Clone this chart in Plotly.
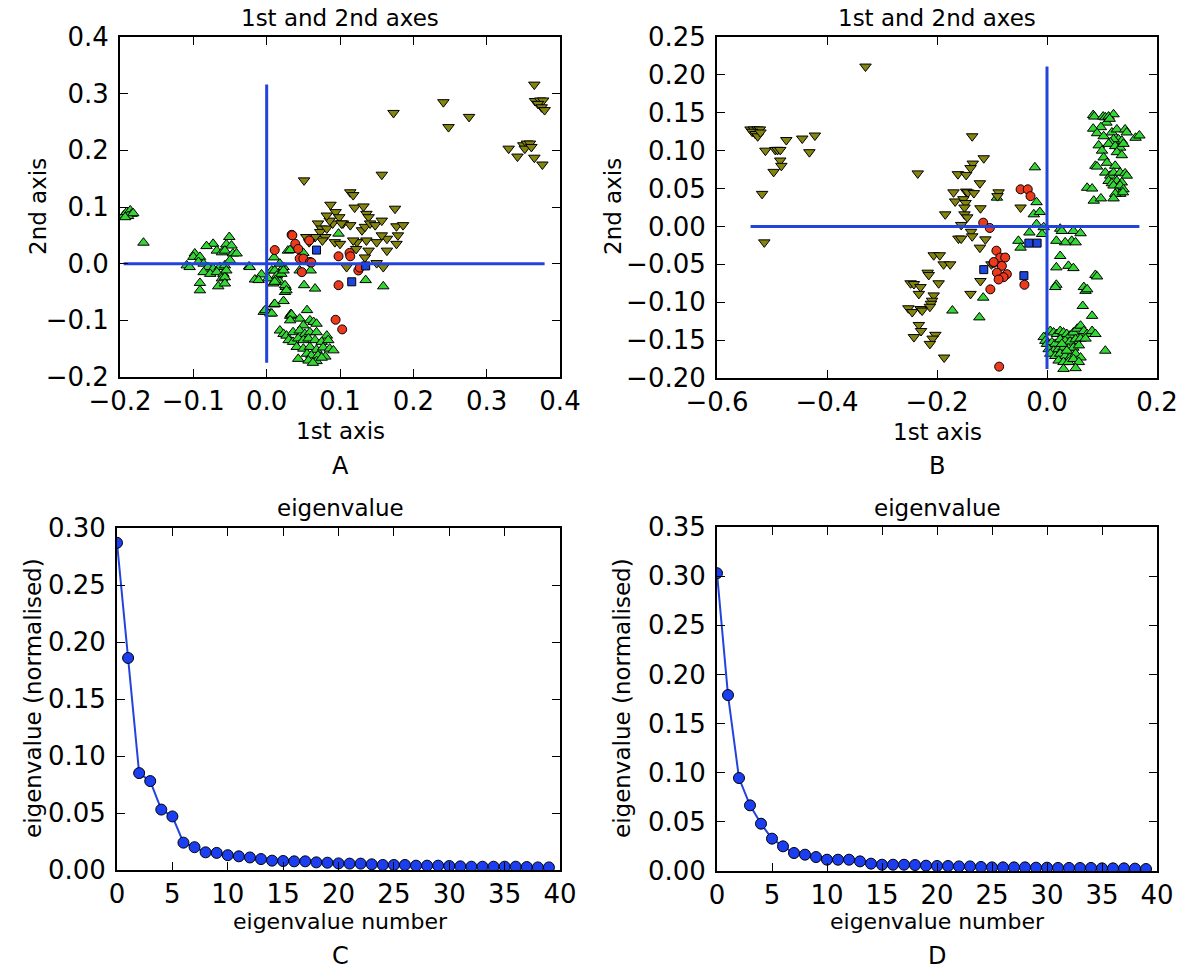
import plotly.graph_objects as go

# ---------------- Panel A data ----------------
a_olive_x = [0.365, 0.241, 0.248, 0.276, 0.173, 0.366, 0.373, 0.377, 0.370, 0.375, 0.379, 0.330, 0.342, 0.350, 0.355, 0.359,
             0.352, 0.361, 0.365, 0.376, 0.157, 0.051, 0.114, 0.118, 0.087, 0.094, 0.099, 0.120, 0.132, 0.136, 0.139, 0.175,
             0.070, 0.075, 0.073, 0.082, 0.090, 0.104, 0.114, 0.130, 0.134, 0.141, 0.148, 0.157, 0.177, 0.186, 0.179, 0.177,
             0.164, 0.164, 0.157, 0.150, 0.139, 0.136, 0.123, 0.118, 0.122, 0.093, 0.100, 0.080, 0.076, 0.066, 0.054, 0.058,
             0.134, 0.150, 0.159, 0.109, 0.086, 0.082, 0.102]
a_olive_y = [0.316, 0.285, 0.241, 0.259, 0.266, 0.287, 0.288, 0.288, 0.282, 0.276, 0.271, 0.203, 0.189, 0.209, 0.212, 0.212,
             0.203, 0.206, 0.187, 0.175, 0.157, 0.147, 0.126, 0.121, 0.104, 0.091, 0.082, 0.099, 0.101, 0.088, 0.082, 0.097,
             0.071, 0.062, 0.056, 0.062, 0.071, 0.071, 0.068, 0.059, 0.065, 0.071, 0.068, 0.076, 0.066, 0.068, 0.050, 0.035,
             0.023, 0.044, 0.050, 0.038, 0.023, 0.041, 0.038, 0.041, 0.026, 0.038, 0.035, 0.047, 0.041, 0.047, 0.047, 0.038,
             0.011, 0.001, -0.006, -0.006, 0.076, 0.085, 0.071]

a_green_x = [-0.195, -0.191, -0.186, -0.184, -0.189, -0.193, -0.182, -0.168,
             -0.051, -0.073, -0.082, -0.055, -0.048, -0.068, -0.061, -0.057, -0.046, -0.041, -0.098, -0.100, -0.091,
             -0.109, -0.105, -0.093, -0.086, -0.080, -0.073, -0.064, -0.057, -0.050, -0.086, -0.077, -0.068, -0.059,
             -0.055, -0.061, -0.057, -0.091, -0.066, -0.024, -0.016, -0.007, -0.011, 0.002, 0.007, 0.011, 0.014, 0.020,
             0.023, 0.010, 0.029, 0.009, 0.018, -0.091, -0.057, -0.023,
             0.032, 0.050, 0.098, 0.018, 0.023, 0.012, 0.026, 0.025, 0.051, 0.060, 0.066, 0.045, 0.135, 0.159, 0.023,
             0.010, 0.000, 0.005, -0.004, 0.033, 0.032, 0.011, 0.025, 0.027,
             0.011, -0.002, 0.007, 0.034, 0.055, 0.045, 0.059, 0.064, 0.068, 0.050, 0.018, 0.023, 0.027, 0.036, 0.045,
             0.052, 0.059, 0.068, 0.082, 0.030, 0.036, 0.043, 0.050, 0.057, 0.066, 0.075, 0.084, 0.041, 0.050, 0.059,
             0.068, 0.077, 0.086, 0.091, 0.055, 0.061, 0.070, 0.080, 0.043, 0.057, 0.068, 0.075, 0.032, 0.063]
a_green_y = [0.085, 0.091, 0.094, 0.088, 0.084, 0.082, 0.089, 0.037,
             0.047, 0.035, 0.031, 0.034, 0.032, 0.023, 0.020, 0.023, 0.018, 0.018, 0.018, 0.012, 0.012,
             -0.003, -0.006, 0.003, 0.000, -0.006, -0.009, -0.006, -0.003, 0.006, -0.015, -0.018, -0.015, -0.018,
             -0.012, -0.026, -0.024, -0.034, -0.040, -0.005, -0.028, -0.019, -0.029, -0.026, -0.012, -0.012, -0.021, -0.018,
             -0.006, 0.011, 0.023, -0.035, -0.032, -0.047, -0.035, -0.006,
             0.024, 0.019, 0.053, 0.000, -0.012, -0.029, -0.041, -0.050, -0.038, -0.012, -0.044, -0.012, -0.029, -0.040, -0.066,
             -0.072, -0.085, -0.088, -0.085, -0.089, -0.092, -0.032, -0.038, -0.047,
             -0.071, -0.082, -0.088, -0.090, -0.082, -0.097, -0.100, -0.103, -0.106, -0.109, -0.118, -0.124, -0.127, -0.121, -0.118,
             -0.124, -0.121, -0.121, -0.127, -0.135, -0.138, -0.132, -0.135, -0.132, -0.135, -0.138, -0.135, -0.147, -0.150, -0.147,
             -0.152, -0.148, -0.150, -0.153, -0.159, -0.162, -0.162, -0.164, -0.168, -0.171, -0.172, -0.166, -0.100, -0.175]

a_red_x = [0.034, 0.035, 0.058, 0.039, 0.043, 0.011, 0.045, 0.050, 0.059, 0.061, 0.048, 0.098, 0.113, 0.114, 0.125, 0.127,
           0.098, 0.094, 0.103]
a_red_y = [0.051, 0.050, 0.041, 0.035, 0.026, 0.024, 0.009, 0.009, 0.003, 0.002, -0.015, 0.013, 0.019, 0.013, -0.012, -0.007,
           -0.038, -0.099, -0.116]

a_blue_x = [0.068, 0.116, 0.135]
a_blue_y = [0.024, -0.032, -0.004]

# ---------------- Panel B data ----------------
b_olive_x = [-0.539, -0.533, -0.526, -0.522, -0.536, -0.530, -0.526, -0.521, -0.512, -0.494, -0.490, -0.485, -0.485, -0.483,
             -0.497, -0.474, -0.445, -0.432, -0.422, -0.518, -0.514, -0.330,
             -0.235, -0.136, -0.115, -0.135, -0.139, -0.162, -0.147, -0.122, -0.170, -0.147, -0.144, -0.133, -0.167, -0.152,
             -0.148, -0.150, -0.121, -0.185, -0.150, -0.145, -0.156, -0.138, -0.161, -0.156, -0.136, -0.112, -0.122, -0.088,
             -0.090, -0.048, -0.101, -0.121, -0.139,
             -0.206, -0.195, -0.188, -0.176, -0.217, -0.215, -0.197, -0.248, -0.242, -0.230, -0.233, -0.206, -0.209, -0.211,
             -0.213, -0.252, -0.245, -0.230, -0.227, -0.233, -0.229, -0.242, -0.203, -0.208, -0.213, -0.187]
b_olive_y = [0.128, 0.128, 0.128, 0.128, 0.125, 0.122, 0.119, 0.124, 0.100, 0.101, 0.101, 0.101, 0.087, 0.080,
             0.072, 0.114, 0.116, 0.098, 0.120, 0.043, -0.021, 0.211,
             0.070, 0.119, 0.090, 0.083, 0.077, 0.069, 0.068, 0.057, 0.045, 0.046, 0.045, 0.044, 0.033, 0.036,
             0.031, 0.025, 0.024, 0.016, 0.016, 0.012, 0.002, -0.007, -0.016, -0.016, -0.013, -0.017, -0.028, 0.045,
             0.040, 0.025, -0.050, -0.072, -0.089,
             -0.038, -0.038, -0.050, -0.050, -0.061, -0.064, -0.075, -0.075, -0.076, -0.080, -0.089, -0.091, -0.098, -0.102,
             -0.106, -0.108, -0.113, -0.109, -0.111, -0.130, -0.138, -0.146, -0.143, -0.148, -0.155, -0.173]

b_green_x = [0.084, 0.086, 0.102, 0.106, 0.112, 0.121, 0.108, 0.114, 0.098, 0.084, 0.091, 0.103, 0.118, 0.127, 0.142, 0.145,
             0.130, 0.136, 0.121, 0.115, 0.161, 0.168, 0.094, 0.112, 0.124, 0.133, 0.139, 0.100, 0.127, 0.136, 0.103, 0.109,
             0.088, 0.091, 0.124, 0.106, 0.115, 0.121, 0.133, 0.142, 0.145, 0.112, 0.127, 0.136, 0.118, 0.121, 0.133, 0.139,
             0.127, 0.133, 0.124, 0.073, 0.082, 0.085, 0.098, 0.121, 0.138,
             -0.022, -0.091, -0.019, -0.024, -0.013, -0.019, -0.032, -0.009, -0.006, 0.024, 0.027, 0.048, 0.061, 0.045,
             0.052, 0.033, 0.017, -0.052, -0.048, 0.024, 0.017, 0.039, 0.048, 0.088, 0.091, 0.017, 0.015, 0.067, 0.070,
             0.073, 0.065, 0.082, -0.172, -0.116, -0.123, 0.106,
             -0.006, -0.003, 0.006, 0.012, 0.018, 0.024, 0.030, 0.036, 0.042, 0.048, 0.055, 0.061, 0.067, 0.073, 0.082,
             0.088, 0.000, 0.009, 0.015, 0.024, 0.033, 0.042, 0.052, 0.061, 0.070, 0.003, 0.012, 0.021, 0.030, 0.039,
             0.048, 0.058, 0.006, 0.015, 0.024, 0.033, 0.042, 0.052, 0.061, 0.021, 0.030, 0.039, 0.048, 0.058, 0.030,
             0.052, 0.036, 0.027]
b_green_y = [0.147, 0.145, 0.145, 0.144, 0.145, 0.148, 0.137, 0.142, 0.131, 0.129, 0.123, 0.119, 0.124, 0.128, 0.128, 0.124,
             0.115, 0.113, 0.115, 0.111, 0.117, 0.120, 0.107, 0.109, 0.106, 0.104, 0.109, 0.100, 0.098, 0.094, 0.091, 0.084,
             0.080, 0.079, 0.080, 0.071, 0.067, 0.071, 0.071, 0.070, 0.067, 0.060, 0.060, 0.058, 0.057, 0.054, 0.054, 0.049,
             0.045, 0.043, 0.043, 0.051, 0.050, 0.034, 0.037, 0.037, 0.045,
             0.078, 0.038, 0.032, 0.016, 0.019, 0.003, -0.008, -0.010, -0.001, -0.003, -0.006, -0.006, -0.009, -0.019,
             -0.021, -0.021, -0.019, -0.019, -0.028, -0.039, -0.054, -0.052, -0.055, -0.064, -0.066, -0.077, -0.080, -0.080, -0.085,
             -0.083, -0.105, -0.118, -0.111, -0.094, -0.120, -0.164,
             -0.146, -0.151, -0.138, -0.140, -0.142, -0.138, -0.140, -0.142, -0.144, -0.140, -0.135, -0.131, -0.138, -0.142, -0.138,
             -0.142, -0.155, -0.153, -0.155, -0.149, -0.151, -0.152, -0.149, -0.148, -0.148, -0.162, -0.164, -0.162, -0.160, -0.161,
             -0.160, -0.157, -0.168, -0.171, -0.168, -0.171, -0.173, -0.168, -0.173, -0.177, -0.179, -0.179, -0.175, -0.179, -0.188,
             -0.187, -0.164, -0.155]

b_red_x = [-0.048, -0.035, -0.030, -0.116, -0.104, -0.092, -0.085, -0.097, -0.082, -0.091, -0.073, -0.079, -0.088, -0.103,
           -0.041, -0.087, -0.097, -0.076]
b_red_y = [0.049, 0.049, 0.040, 0.005, -0.002, -0.032, -0.041, -0.048, -0.052, -0.061, -0.063, -0.067, -0.070, -0.083,
           -0.077, -0.185, -0.047, -0.041]

b_blue_x = [-0.033, -0.018, -0.115, -0.042]
b_blue_y = [-0.022, -0.022, -0.057, -0.065]

# ---------------- Panels C, D data ----------------
eig_index = list(range(40))
c_vals = [0.287, 0.186, 0.085, 0.078, 0.053, 0.047, 0.024, 0.020, 0.0155, 0.015, 0.013, 0.012, 0.011, 0.0096, 0.0082,
          0.0079, 0.0076, 0.0076, 0.0067, 0.0064, 0.0058, 0.0056, 0.0056, 0.0050, 0.0044, 0.0044, 0.0044, 0.0038, 0.0038,
          0.0038, 0.0035, 0.0032, 0.0029, 0.0029, 0.0029, 0.0029, 0.0029, 0.0026, 0.0023, 0.0023]
d_vals = [0.303, 0.179, 0.0946, 0.0668, 0.0481, 0.0329, 0.0251, 0.0183, 0.0166, 0.0142, 0.0115, 0.0115, 0.0115, 0.0098,
          0.0075, 0.0064, 0.0064, 0.0064, 0.0061, 0.0054, 0.0051, 0.0051, 0.0047, 0.0047, 0.0041, 0.0037, 0.0037, 0.0037,
          0.0037, 0.0034, 0.0034, 0.0031, 0.0031, 0.0031, 0.0031, 0.0027, 0.0027, 0.0027, 0.0024, 0.0020]

# ---------------- styles ----------------
FONT = "DejaVu Sans"
W, H = 1200, 978
OLIVE = "#84840f"
GREEN = "#33d633"
RED = "#ee3a1c"
BLUE = "#1d45e0"
LINE = "#2244dd"
EDGE = dict(color="black", width=1)

fig = go.Figure()


def px(x):
    return x / W


def py(y):
    return 1 - y / H


# domains (pixel boxes in the screenshot)
boxes = {
    "A": (120, 560, 37, 377),
    "B": (717, 1157, 37, 378),
    "C": (117, 560, 528, 870),
    "D": (717, 1157, 527, 871),
}
axis_ids = {"A": ("x", "y"), "B": ("x2", "y2"), "C": ("x3", "y3"), "D": ("x4", "y4")}


def scatter_panel(key, groups):
    xa, ya = axis_ids[key]
    for gx, gy, sym, col, size in groups:
        fig.add_trace(go.Scatter(x=gx, y=gy, mode="markers", xaxis=xa, yaxis=ya, showlegend=False,
                                 marker=dict(symbol=sym, color=col, size=size, line=EDGE)))
    allx = [v for g in groups for v in g[0]]
    ally = [v for g in groups for v in g[1]]
    fig.add_trace(go.Scatter(x=[min(allx), max(allx)], y=[0, 0], mode="lines", xaxis=xa, yaxis=ya,
                             showlegend=False, line=dict(color=LINE, width=3)))
    fig.add_trace(go.Scatter(x=[0, 0], y=[min(ally), max(ally)], mode="lines", xaxis=xa, yaxis=ya,
                             showlegend=False, line=dict(color=LINE, width=3)))


scatter_panel("A", [
    (a_green_x, a_green_y, "triangle-up", GREEN, 10),
    (a_olive_x, a_olive_y, "triangle-down", OLIVE, 10),
    (a_red_x, a_red_y, "circle", RED, 9),
    (a_blue_x, a_blue_y, "square", BLUE, 8),
])
scatter_panel("B", [
    (b_green_x, b_green_y, "triangle-up", GREEN, 10),
    (b_olive_x, b_olive_y, "triangle-down", OLIVE, 10),
    (b_red_x, b_red_y, "circle", RED, 9),
    (b_blue_x, b_blue_y, "square", BLUE, 8),
])

for key, vals in (("C", c_vals), ("D", d_vals)):
    xa, ya = axis_ids[key]
    fig.add_trace(go.Scatter(x=eig_index, y=vals, mode="lines+markers", xaxis=xa, yaxis=ya, showlegend=False,
                             line=dict(color=LINE, width=2),
                             marker=dict(symbol="circle", size=11, color="#1a3ef0", line=EDGE)))

axis_common = dict(showline=True, linecolor="black", linewidth=2, mirror="allticks", ticks="inside",
                   ticklen=8, tickwidth=1, tickcolor="black", showgrid=False, zeroline=False,
                   automargin=False,
                   tickfont=dict(family=FONT, size=26, color="black"))

ranges = {
    "A": ((-0.2, 0.4), 0.1, ".1f", (-0.2, 0.4), 0.1, ".1f"),
    "B": ((-0.6, 0.2), 0.2, ".1f", (-0.2, 0.25), 0.05, ".2f"),
    "C": ((0, 40), 5, "d", (0, 0.30), 0.05, ".2f"),
    "D": ((0, 40), 5, "d", (0, 0.35), 0.05, ".2f"),
}

layout_axes = {}
for i, key in enumerate(["A", "B", "C", "D"]):
    x0, x1, y0, y1 = boxes[key]
    xr, xd, xf, yr, yd, yf = ranges[key]
    sfx = "" if i == 0 else str(i + 1)
    layout_axes["xaxis" + sfx] = dict(axis_common, domain=[px(x0), px(x1)], range=list(xr), dtick=xd,
                                      tick0=xr[0], tickformat=xf, anchor="y" + sfx, ticklabelstandoff=0)
    layout_axes["yaxis" + sfx] = dict(axis_common, domain=[py(y1), py(y0)], range=list(yr), dtick=yd,
                                      tick0=yr[0], tickformat=yf, anchor="x" + sfx, ticklabelstandoff=4)

fig.update_layout(width=W, height=H, margin=dict(l=0, r=0, t=0, b=0, autoexpand=False),
                  paper_bgcolor="white", plot_bgcolor="white", showlegend=False, **layout_axes)

ann = []


def text(x, y, s, size=23, angle=0):
    ann.append(dict(x=px(x), y=py(y), xref="paper", yref="paper", text=s, showarrow=False,
                    xanchor="center", yanchor="middle", textangle=angle, borderpad=0,
                    font=dict(family=FONT, size=size, color="black")))


text(340, 18, "1st and 2nd axes")
text(937, 18, "1st and 2nd axes")
text(340, 431, "1st axis")
text(937, 432, "1st axis")
text(38, 207, "2nd axis", angle=-90)
text(613, 207, "2nd axis", angle=-90)
text(340, 466, "A", size=24)
text(937, 466, "B", size=24)
text(340, 508, "eigenvalue")
text(937, 508, "eigenvalue")
text(340, 921, "eigenvalue number", size=22)
text(937, 921, "eigenvalue number", size=22)
text(33, 698, "eigenvalue (normalised)", angle=-90)
text(622, 698, "eigenvalue (normalised)", angle=-90)
text(340, 956, "C", size=24)
text(937, 956, "D", size=24)
fig.update_layout(annotations=ann)

# remove the default 8px page margin so the figure sits at the window origin
fig.write_html("out.html", config={"displayModeBar": False},
               post_script="document.body.style.margin='0';document.body.style.overflow='hidden';")
